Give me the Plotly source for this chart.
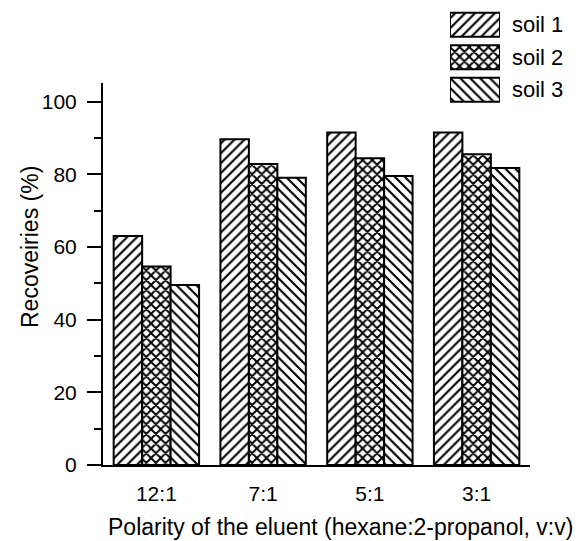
import plotly.graph_objects as go

categories = ["12:1", "7:1", "5:1", "3:1"]
series_names = ["soil 1", "soil 2", "soil 3"]
soil1 = [63.0, 89.6, 91.5, 91.5]
soil2 = [54.6, 82.8, 84.4, 85.5]
soil3 = [49.5, 79.0, 79.5, 81.7]
series_values = [soil1, soil2, soil3]
patterns = ["/", "x", "\\"]
pattern_sizes = [7, 6.8, 7]
solidities = [0.3, 0.48, 0.3]

FONT = "Liberation Sans, Arial, sans-serif"
OFF = 8                      # browser body margin offset
W, H = 588 - OFF, 541 - OFF
# reference pixel positions (window coords)
AX_L, AX_R, AX_TOP, AX_BOT = 103, 530, 83, 465
L = AX_L - OFF
R = 588 - AX_R
T = 0
B = 541 - AX_BOT
plot_h = H - T - B
plot_w = W - L - R

def ry(py):   # reference window y pixel -> paper y
    return (AX_BOT - py) / plot_h

def rx(px):   # reference window x pixel -> paper x
    return (px - AX_L) / plot_w

def pat(shp, size, sol):
    return dict(shape=shp, fgcolor="black", bgcolor="white", size=size,
                solidity=sol, fgopacity=1, fillmode="replace")

fig = go.Figure()
for name, vals, shp, sz, sol in zip(series_names, series_values, patterns,
                                    pattern_sizes, solidities):
    fig.add_trace(go.Bar(
        x=categories, y=vals, name=name, showlegend=False,
        marker=dict(color="white", line=dict(color="black", width=2),
                    pattern=pat(shp, sz, sol)),
        xaxis="x", yaxis="y"))

# legend swatches drawn as bars on an auxiliary axis
for name, shp, sz, sol in zip(series_names, patterns, pattern_sizes, solidities):
    fig.add_trace(go.Bar(
        y=[name], x=[1], orientation="h", showlegend=False, width=0.74,
        marker=dict(color="white", line=dict(color="black", width=2),
                    pattern=pat(shp, sz, sol)),
        xaxis="x2", yaxis="y2"))

fig.update_layout(
    width=W, height=H,
    margin=dict(l=L, r=R, t=T, b=B, autoexpand=False),
    paper_bgcolor="white", plot_bgcolor="white",
    barmode="group", bargap=0.2, bargroupgap=0,
    font=dict(family=FONT, size=21, color="black"),
    xaxis=dict(domain=[0, 1], range=[-0.5, 3.5], showline=True, linecolor="black",
               linewidth=2, ticks="", showgrid=False, zeroline=False,
               tickfont=dict(size=21), ticklabelstandoff=9, anchor="y",
               automargin=False),
    yaxis=dict(domain=[0, ry(AX_TOP)], range=[0, 105.1], showline=True,
               linecolor="black", linewidth=2, ticks="outside", ticklen=14,
               tickwidth=2, tickcolor="black", dtick=20, showgrid=False,
               zeroline=False, tickfont=dict(size=21), ticklabelstandoff=6,
               minor=dict(ticks="outside", ticklen=7, tickwidth=2, dtick=10,
                          tickcolor="black", showgrid=False),
               anchor="x", automargin=False),
    xaxis2=dict(domain=[rx(450), rx(500)], range=[0, 1], visible=False,
                anchor="y2"),
    yaxis2=dict(domain=[ry(106), min(1.0, ry(8.5))], range=[2.5, -0.5],
                side="right", showline=False, ticks="", showgrid=False,
                zeroline=False, tickfont=dict(size=22), ticklabelstandoff=11,
                anchor="x2", automargin=False),
    annotations=[
        dict(text="Polarity of the eluent (hexane:2-propanol, v:v)",
             xref="paper", yref="paper", x=rx(340), y=ry(527),
             xanchor="center", yanchor="middle", showarrow=False,
             font=dict(size=23)),
        dict(text="Recoveiries (%)", textangle=-90,
             xref="paper", yref="paper", x=rx(30), y=ry(247),
             xanchor="center", yanchor="middle", showarrow=False,
             font=dict(size=23)),
    ],
)

fig.write_html("out.html")
